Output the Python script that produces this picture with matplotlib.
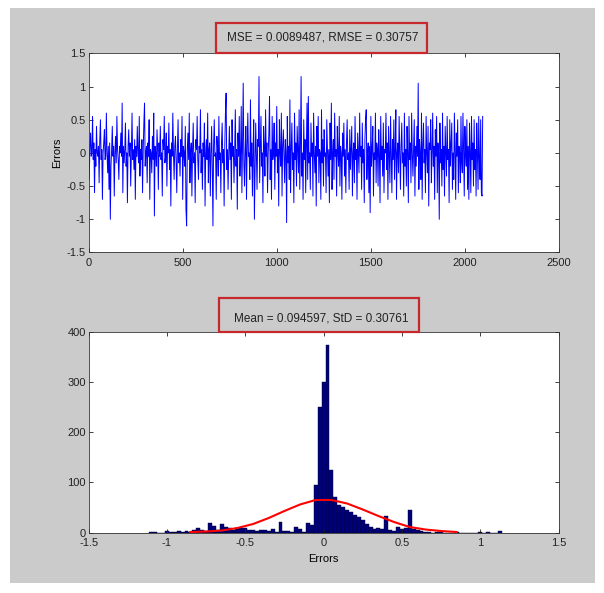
import matplotlib
matplotlib.use("Agg")
import matplotlib.pyplot as plt
from matplotlib.patches import Rectangle
from matplotlib.ticker import FuncFormatter
import numpy as np

plt.rcParams['axes.unicode_minus'] = False
plt.rcParams['font.family'] = 'Liberation Sans'

# errors over the samples, in hundredths (one value read every 3.5 samples)
sample_step = 3.5
errors_cents = [
    5, -40, 10, 30, -5, 0, 55, -10, 15, -60, 5, -20, 40, 0, -5, 10, -45, 20, 50, -10,
    5, -70, 0, 15, 35, -10, -5, 60, 0, -30, 10, -55, 15, -100, -20, 5, 40, -5, 10, -65,
    0, 25, -15, 55, 5, -10, -40, 10, 0, 30, -5, 75, -60, 10, -15, 5, 45, -20, 0, -75,
    10, 35, -5, 15, -50, 0, 60, -10, 5, -25, 20, -70, 10, -5, 40, 0, -15, 55, -35, 5,
    -10, 20, -60, 5, 45, 75, -20, 0, 10, -45, 15, -5, 50, -70, 5, 0, -30, 25, -10, 60,
    -95, 10, 0, -20, 35, 5, -55, 15, -5, 40, -10, 0, -65, 20, 5, 55, -15, -5, 30, -50,
    10, 0, 45, -25, 5, -80, 15, -5, 60, 0, -40, 10, 25, -10, -60, 5, 50, -15, 0, -35,
    20, -5, 55, -70, 10, 0, -20, 40, -85, -110, 5, 30, -10, 60, -45, 0, 15, -65, 5, 45,
    -15, 0, -75, 20, 5, 55, -10, -40, 10, 0, 65, -30, 5, -55, 15, -5, 45, -80, 0, 20,
    -10, 60, -45, 5, 15, -65, 0, 40, -20, -110, 10, 50, -5, 0, -70, 25, 5, -35, 55, -10,
    0, -60, 15, 45, -15, 5, -80, 10, 60, 90, -25, 5, -55, 0, 40, -10, 15, -70, 50, -5,
    10, -45, 0, 65, -20, 5, -85, 30, -5, 55, -35, 0, 70, -60, 15, 105, -15, -50, 5, 40,
    -70, 10, 60, -5, 0, -40, 80, -20, 15, -65, 5, 50, -100, -30, 45, 0, -55, 20, 10, 115,
    -45, 5, 55, -20, 0, -75, 40, 10, -35, 65, -5, 15, -60, 0, 30, 85, -40, 5, -70, 55,
    -10, 0, 45, -55, 15, -5, 70, -30, 5, -80, 50, 0, -20, 60, -65, 10, 35, -5, -45, 20,
    0, -105, 55, -15, 10, -40, 80, -60, 5, 45, -25, 0, -75, 60, -10, 15, -50, 40, 5, -30,
    65, -55, 10, 115, -35, 0, -70, 50, -10, 20, -60, 5, 75, -40, 85, -15, 0, -55, 45, -5,
    15, -65, 60, 0, -30, 10, -80, 40, -5, 55, -45, 5, 0, -70, 65, -15, 20, -50, 35, -5,
    0, -60, 50, 10, -35, 5, -75, 45, -10, 75, -55, 0, 20, -40, 60, -5, 5, -65, 40, 0,
    -20, 55, -50, 10, 0, -70, 30, -5, 45, -35, 5, -60, 15, 50, -10, 0, -55, 35, -25, 5,
    40, -65, 0, 15, -45, 55, -10, 5, -70, 30, 0, -30, 60, -5, 10, -55, 45, -15, 5, -75,
    20, 50, 65, -40, 0, 15, -60, 10, -90, 55, -20, 5, 40, -65, 0, -10, 60, -45, 15, 5,
    -50, 35, 0, -75, 55, -10, 10, -35, 45, -60, 5, 0, 60, -25, 15, -70, 40, -5, -45, 55,
    0, -60, 20, -10, 50, -40, 5, 65, -70, 0, 15, -30, 55, -5, -55, 10, 45, -15, 0, -65,
    60, -20, 5, -50, 40, 0, -75, 55, -10, 15, -45, 60, 0, -35, 5, 50, -65, 10, -20, 40,
    -5, 105, -55, 20, 0, -40, 60, -70, 10, 45, -15, 5, -60, 55, 0, -30, 40, -80, 15, 5,
    50, -45, 0, 60, -20, 10, -70, 35, -5, 55, -60, 15, 0, -100, 45, -15, 5, -50, 60, -25,
    10, -65, 40, 0, -35, 55, -10, 5, -75, 50, -20, 15, 45, -55, 0, -40, 60, 5, -70, 30,
    -5, 50, -60, 10, 0, -45, 55, -15, -30, 60, 5, -65, 40, 0, -20, 50, -55, 10, -70, 45,
    0, -60, 55, -10, 15, -50, 50, -25, 5, -65, 45, 0, -55, 55, -10, -40, 50, -60, -65, 55,
]

# histogram of the errors, bins of 0.025 starting at -1.1
bin_start = -1.1
bin_width = 0.025
hist_counts = [
    2, 1, 0, 0, 3, 1, 2, 4, 1, 3, 2, 5, 10, 6, 4, 20, 14, 6, 18, 12,
    10, 6, 9, 10, 10, 6, 5, 4, 5, 5, 3, 8, 2, 22, 4, 3, 1, 12, 8, 2,
    20, 15, 95, 250, 300, 375, 125, 70, 55, 50, 45, 40, 35, 30, 25, 18, 12, 8, 10, 8,
    32, 6, 4, 12, 8, 10, 45, 8, 5, 3, 2, 1, 0, 1, 2, 0, 0, 0, 1, 0,
    0, 0, 0, 0, 2, 0, 1, 0, 0, 3,
]

# fitted normal curve (red)
fit_x = [-0.85, -0.75, -0.65, -0.55, -0.45, -0.35, -0.25, -0.15, -0.05,
         0.05, 0.15, 0.25, 0.35, 0.45, 0.55, 0.65, 0.75, 0.85]
fit_y = [1, 2, 4, 9, 17, 29, 43, 56, 65, 65, 58, 46, 33, 21, 11, 6, 3, 1]

top_title = 'MSE = 0.0089487, RMSE = 0.30757'
bottom_title = 'Mean = 0.094597, StD = 0.30761'


def matlab_fmt(v, pos):
    s = ('%.4f' % v).rstrip('0').rstrip('.')
    return '0' if s in ('-0', '') else s


fig = plt.figure(figsize=(6.04, 5.93), dpi=100)
fig.patch.set_facecolor('white')
fig.add_artist(Rectangle((0.0166, 0.0169), 0.9685, 0.9696, transform=fig.transFigure,
                         facecolor='#cbcbcb', edgecolor='none', zorder=-10))

ax1 = fig.add_axes([0.1467, 0.5742, 0.7780, 0.3359])
ax2 = fig.add_axes([0.1467, 0.1020, 0.7780, 0.3376])

# top: errors against sample number
errors = np.array(errors_cents) / 100.0
samples = np.arange(len(errors)) * sample_step
ax1.plot(samples, errors, color='#0000ff', lw=0.7)
ax1.set_xlim(0, 2500)
ax1.set_ylim(-1.5, 1.5)
ax1.set_xticks([0, 500, 1000, 1500, 2000, 2500])
ax1.set_yticks([-1.5, -1, -0.5, 0, 0.5, 1, 1.5])
ax1.set_ylabel('Errors', fontsize=8, labelpad=3)

# bottom: histogram with fitted curve
centers = bin_start + bin_width * np.arange(len(hist_counts))
ax2.bar(centers, hist_counts, width=bin_width, color='#00007a',
        edgecolor='#000033', linewidth=0.3)
ax2.plot(fit_x, fit_y, color='#ff0000', lw=1.5)
ax2.set_xlim(-1.5, 1.5)
ax2.set_ylim(0, 400)
ax2.set_xticks([-1.5, -1, -0.5, 0, 0.5, 1, 1.5])
ax2.set_yticks([0, 100, 200, 300, 400])
ax2.set_xlabel('Errors', fontsize=8, labelpad=4)

for ax in (ax1, ax2):
    ax.xaxis.set_major_formatter(FuncFormatter(matlab_fmt))
    ax.yaxis.set_major_formatter(FuncFormatter(matlab_fmt))
    ax.tick_params(direction='in', top=True, right=True, length=3,
                   width=0.6, labelsize=8, colors='#222222', pad=2)
    ax.tick_params(axis='x', pad=4)
    for sp in ax.spines.values():
        sp.set_linewidth(0.6)
        sp.set_color('#333333')

# titles with the red boxes around them
fig.text(0.534, 0.936, top_title, ha='center', va='center', fontsize=8.5, color='#222222')
fig.text(0.532, 0.4637, bottom_title, ha='center', va='center', fontsize=8.5, color='#222222')
fig.add_artist(Rectangle((0.3584, 0.9101), 0.3486, 0.0516, transform=fig.transFigure,
                         facecolor='none', edgecolor='#c8282c', lw=1.6))
fig.add_artist(Rectangle((0.3626, 0.4401), 0.3311, 0.0574, transform=fig.transFigure,
                         facecolor='none', edgecolor='#c8282c', lw=1.6))

fig.savefig('out.png', dpi=100)
